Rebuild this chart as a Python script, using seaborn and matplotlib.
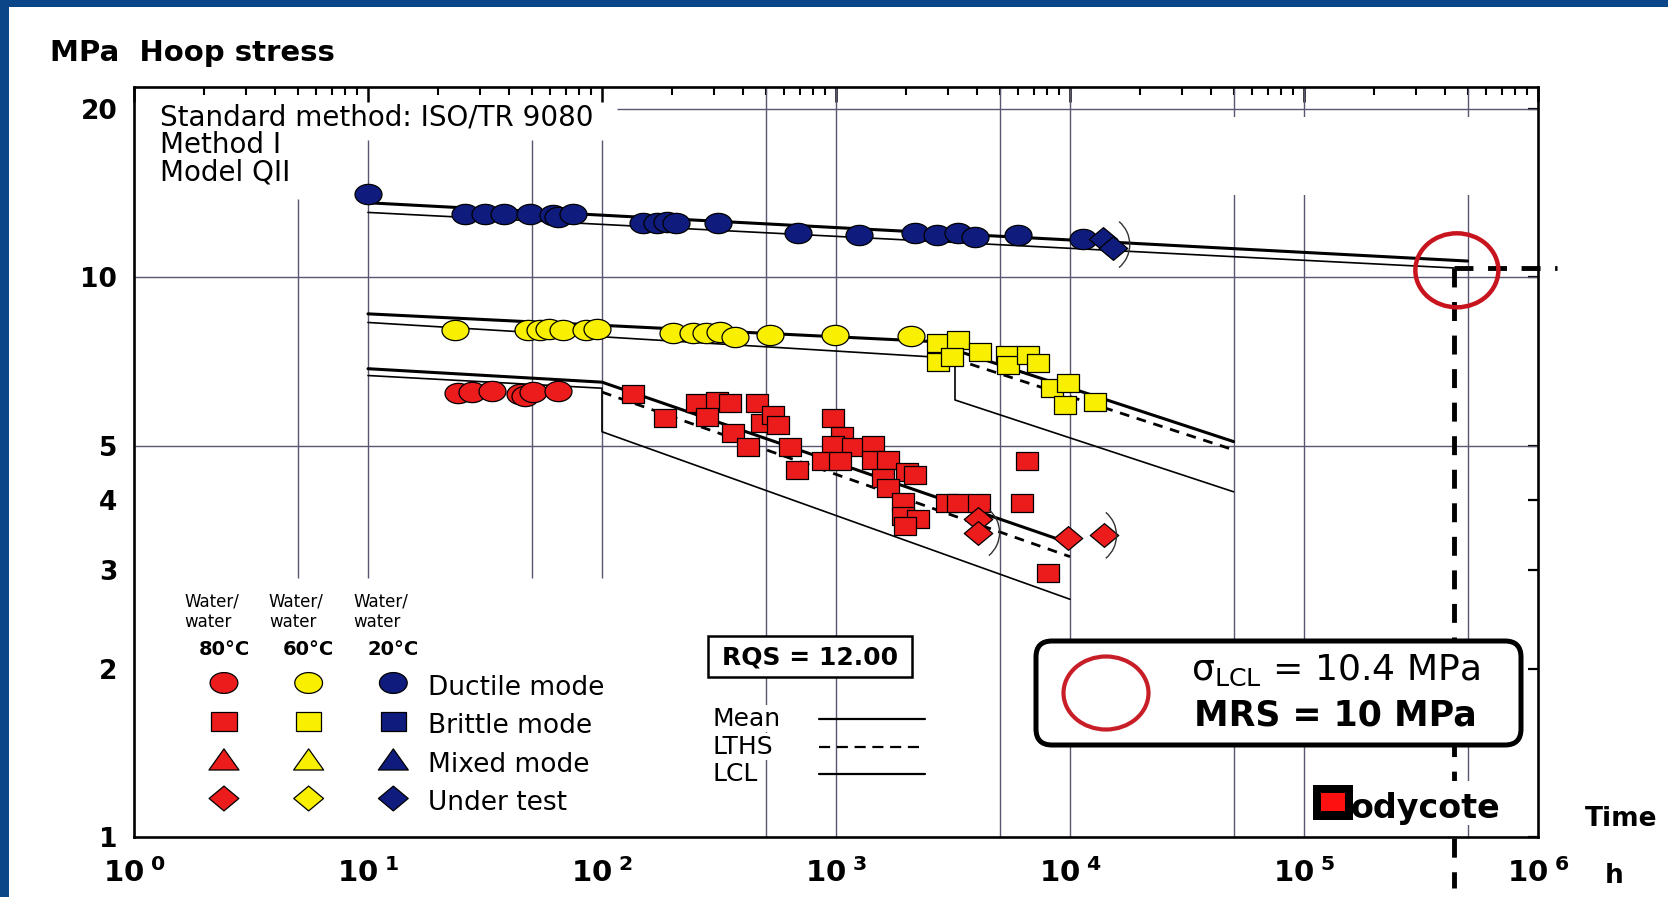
import matplotlib
matplotlib.use("Agg")
import numpy as np
import matplotlib.pyplot as plt
import matplotlib.transforms as mtransforms
from matplotlib.path import Path
from matplotlib.patches import Rectangle, Ellipse, FancyBboxPatch, Arc
from matplotlib.lines import Line2D
from matplotlib.ticker import FixedLocator, FixedFormatter, LogLocator, NullLocator, NullFormatter
import seaborn as sns

# ---- values: time in h, hoop stress in MPa ----
# 20 C water/water
blue_ductile_t = [10, 26, 31.5, 38, 49, 62, 65, 75, 150, 171, 189, 208, 314, 690,
                  1260, 2180, 2690, 3330, 3930, 6010, 11400]
blue_ductile_s = [14.1, 13.0, 13.0, 13.0, 13.0, 12.95, 12.8, 13.0, 12.5, 12.5, 12.55, 12.5, 12.5, 12.0,
                  11.9, 12.0, 11.9, 12.0, 11.8, 11.9, 11.7]
blue_test_t = [13900, 15300]
blue_test_s = [11.7, 11.3]

# 60 C water/water
yellow_ductile_t = [23.5, 48.4, 54.3, 59.5, 67.9, 85.5, 95.6, 202, 246, 279, 319, 370, 522, 990, 2090]
yellow_ductile_s = [8.06, 8.06, 8.06, 8.08, 8.06, 8.06, 8.08, 7.97, 7.97, 7.97, 8.0, 7.82, 7.9, 7.88, 7.87]
yellow_brittle_t = [2735, 2735, 3330, 3120, 4120, 5360, 5450, 6640, 7330, 8360, 9840, 9520, 12800]
yellow_brittle_s = [7.63, 7.07, 7.74, 7.22, 7.37, 7.27, 6.98, 7.27, 7.03, 6.34, 6.47, 5.92, 5.98]

# 80 C water/water
red_ductile_t = [24.3, 27.7, 33.8, 44.7, 47, 50.9, 65.0]
red_ductile_s = [6.21, 6.24, 6.26, 6.18, 6.15, 6.24, 6.26]
red_brittle_t = [136, 186, 254, 309, 352, 458, 280, 481, 540, 567, 364, 422, 636, 679, 974, 1058,
                 974, 1186, 883, 1040, 1443, 1443, 1673, 2004, 2178, 1592, 1673, 1942, 1942, 2249,
                 1972, 2972, 3333, 4098, 6530, 6220, 8070]
red_brittle_s = [6.2, 5.6, 5.97, 6.02, 5.97, 5.97, 5.64, 5.5, 5.68, 5.46, 5.27, 4.97, 4.97, 4.52, 5.6, 5.2,
                 5.02, 4.97, 4.69, 4.69, 5.02, 4.72, 4.72, 4.5, 4.44, 4.38, 4.2, 3.97, 3.74, 3.7,
                 3.59, 3.96, 3.96, 3.96, 4.69, 3.96, 2.96]
red_test_t = [4060, 4060, 9840, 14000]
red_test_s = [3.70, 3.49, 3.42, 3.46]

# fitted lines (mean, LTHS, LCL)
blue_mean_t, blue_mean_s = [10, 5e5], [13.6, 10.7]
blue_lcl_t, blue_lcl_s = [10, 438000], [13.07, 10.4]
yellow_mean_t, yellow_mean_s = [10, 2480, 5e4], [8.61, 7.69, 5.09]
yellow_lths_t, yellow_lths_s = [2700, 5e4], [7.32, 4.92]
yellow_lcl_t, yellow_lcl_s = [10, 3225, 3225, 5e4], [8.31, 7.17, 6.04, 4.14]
red_mean_t, red_mean_s = [10, 100, 1e4], [6.87, 6.50, 3.35]
red_lths_t, red_lths_s = [100, 1e4], [6.24, 3.17]
red_lcl_t, red_lcl_s = [10, 100, 100, 1e4], [6.68, 6.34, 5.30, 2.66]

# 50 year point, sigma_LCL
t50 = 438000
sigma_lcl = 10.4
bracket_t = [18000, 5000, 15800]
bracket_s = [11.45, 3.5, 3.46]

x_ticks = [1, 10, 100, 1e3, 1e4, 1e5, 1e6]
x_labels = [r'$\mathbf{10}^{\ \mathbf{%d}}$' % i for i in range(7)]
y_ticks = [1, 2, 3, 4, 5, 10, 20]
y_labels = ['1', '2', '3', '4', '5', '10', '20']

leg_temps = ['80°C', '60°C', '20°C']
leg_modes = ['Ductile mode', 'Brittle mode', 'Mixed mode', 'Under test']

RED = '#ec1c1c'
YELLOW = '#f8f000'
NAVY = '#0f1c7d'
GRID = '#5a5570'

sns.set_theme(style='white')
plt.rcParams['font.family'] = ['DejaVu Sans']
plt.rcParams['mathtext.fontset'] = 'dejavusans'
plt.rcParams['text.color'] = 'black'
plt.rcParams['xtick.color'] = 'black'
plt.rcParams['ytick.color'] = 'black'
plt.rcParams['xtick.labelcolor'] = 'black'
plt.rcParams['ytick.labelcolor'] = 'black'

# slightly wide marker shapes (the scan is stretched sideways)
ang = np.linspace(0, 2 * np.pi, 49)
OVAL = Path(np.column_stack([1.33 * np.cos(ang), np.sin(ang)]), closed=True)
BOX = Path([(-1.3, -1), (1.3, -1), (1.3, 1), (-1.3, 1), (-1.3, -1)], closed=True)
KITE = Path([(0, 1), (1.2, 0), (0, -1), (-1.2, 0), (0, 1)], closed=True)
TRI = Path([(-1.35, -0.9), (1.35, -0.9), (0, 1), (-1.35, -0.9)], closed=True)

W, H = 1668, 897
fig = plt.figure(figsize=(W / 100, H / 100), dpi=100)
fig.patch.set_facecolor('white')
PX = mtransforms.Affine2D().scale(1 / W, -1 / H).translate(0, 1) + fig.transFigure

ax = fig.add_axes([134 / W, 1 - 837 / H, (1538 - 134) / W, (837 - 87) / H])
ax.set_xscale('log')
ax.set_yscale('log')
ax.set_xlim(1, 1e6)
ax.set_ylim(1, 21.9)

# broken grid like the scan
ax.vlines([5], 2.9, 13.8, color=GRID, lw=1.0, zorder=1)
ax.vlines([10, 50, 100], 2.9, 17.6, color=GRID, lw=1.0, zorder=1)
ax.vlines([500, 1000, 5000, 1e4, 5e4, 1e5, 5e5], 1, 21.9, color=GRID, lw=1.0, zorder=1)
ax.hlines([5, 10], 1, 1e6, color=GRID, lw=1.0, zorder=1)
ax.hlines([20], 116, 1e6, color=GRID, lw=1.0, zorder=1)


def fit(t, s, lw, ls='-'):
    sns.lineplot(x=t, y=s, estimator=None, sort=False, color='black', lw=lw,
                 linestyle=ls, ax=ax, zorder=3)


for t, s in [(blue_mean_t, blue_mean_s), (yellow_mean_t, yellow_mean_s), (red_mean_t, red_mean_s)]:
    fit(t, s, 2.2)
for t, s in [(blue_lcl_t, blue_lcl_s), (yellow_lcl_t, yellow_lcl_s), (red_lcl_t, red_lcl_s)]:
    fit(t, s, 1.2)
for t, s in [(yellow_lths_t, yellow_lths_s), (red_lths_t, red_lths_s)]:
    fit(t, s, 2.0, (0, (3.5, 2.8)))


def pts(t, s, marker, size, color):
    sns.scatterplot(x=t, y=s, marker=marker, s=size, color=color, edgecolor='black',
                    linewidth=0.9, legend=False, ax=ax, zorder=5)


pts(blue_ductile_t, blue_ductile_s, OVAL, 378, NAVY)
pts(blue_test_t, blue_test_s, KITE, 420, NAVY)
pts(yellow_ductile_t, yellow_ductile_s, OVAL, 378, YELLOW)
pts(yellow_brittle_t, yellow_brittle_s, BOX, 260, YELLOW)
pts(red_ductile_t, red_ductile_s, OVAL, 378, RED)
pts(red_brittle_t, red_brittle_s, BOX, 260, RED)
pts(red_test_t, red_test_s, KITE, 420, RED)

# ")" marks after the specimens still under test
for bt, bs in zip(bracket_t, bracket_s):
    tr = fig.dpi_scale_trans + mtransforms.ScaledTranslation(bt, bs, ax.transData)
    ax.add_patch(Arc((-0.3, 0), 0.6, 0.6, theta1=-50, theta2=50, transform=tr,
                     color='#333333', lw=1.0, zorder=6))

# 50 year extrapolation
ax.plot([t50, t50], [sigma_lcl, 0.81], color='black', lw=3.5, ls=(0, (3.9, 3.0)),
        clip_on=False, zorder=4)
ax.plot([t50, 1.2e6], [sigma_lcl, sigma_lcl], color='black', lw=3.5, ls=(0, (3.9, 3.0)),
        clip_on=False, zorder=4)
tr = fig.dpi_scale_trans + mtransforms.ScaledTranslation(4.5e5, 10.3, ax.transData)
ax.add_patch(Ellipse((0, 0), 0.83, 0.74, transform=tr, fill=False, ec='#c8141e', lw=3.2,
                     clip_on=False, zorder=7))

# axes styling
ax.xaxis.set_major_locator(FixedLocator(x_ticks))
ax.xaxis.set_major_formatter(FixedFormatter(x_labels))
ax.xaxis.set_minor_locator(LogLocator(base=10, subs=np.arange(2, 10), numticks=30))
ax.xaxis.set_minor_formatter(NullFormatter())
ax.yaxis.set_major_locator(FixedLocator(y_ticks))
ax.yaxis.set_major_formatter(FixedFormatter(y_labels))
ax.yaxis.set_minor_locator(NullLocator())
ax.tick_params(which='both', direction='in', top=True, right=True, color='black')
ax.tick_params(axis='x', which='major', length=11, width=1.8, pad=15, labelsize=21)
ax.tick_params(axis='x', which='minor', length=6, width=1.5)
ax.tick_params(axis='y', which='major', length=7, width=1.6, pad=12, labelsize=19)
for lab in ax.get_yticklabels():
    lab.set_fontweight('bold')
for sp in ax.spines.values():
    sp.set_linewidth(1.9)
    sp.set_color('black')
ax.set_xlabel('')
ax.set_ylabel('')

# erased strip at top right of the scan
fig.add_artist(Rectangle((1210, 117), 321, 78, transform=PX, fc='white', ec='none', zorder=1))

# header texts
fig.text(50, 61, 'MPa  Hoop stress', transform=PX, fontsize=21, fontweight='bold', va='baseline')
for txt, yb in zip(['Standard method: ISO/TR 9080', 'Method I', 'Model QII'], [125, 153, 181]):
    fig.text(160, yb, txt, transform=PX, fontsize=20, va='baseline')
fig.text(1585, 819, 'Time', transform=PX, fontsize=19, fontweight='bold', va='center')
fig.text(1614, 876, 'h', transform=PX, fontsize=19, fontweight='bold', va='center', ha='center')

# symbol key
leg = fig.add_axes([164.7 / W, 1 - 817.75 / H, (605 - 164.7) / W, (817.75 - 586.75) / H])
leg.set_xlim(-0.7, 4.5)
leg.set_ylim(3.5, -2.5)
leg.axis('off')
leg_cols = [0, 1, 2]
palette = dict(zip(leg_temps, [RED, YELLOW, NAVY]))
for j, (mk, sz) in enumerate(zip([OVAL, BOX, TRI, KITE], [400, 340, 467, 460])):
    sns.scatterplot(x=leg_cols, y=[j] * 3, hue=leg_temps, palette=palette, marker=mk, s=sz,
                    edgecolor='black', linewidth=0.9, legend=False, ax=leg, clip_on=False)
    leg.text(2.41, j + 0.12, leg_modes[j], fontsize=19, va='center', ha='left')
leg.set_xlim(-0.7, 4.5)
leg.set_ylim(3.5, -2.5)
for i, temp in enumerate(leg_temps):
    leg.text(i - 0.47, -2.11, 'Water/', fontsize=12, va='center', ha='left')
    leg.text(i - 0.47, -1.59, 'water', fontsize=12, va='center', ha='left')
    leg.text(i, -0.86, temp, fontsize=14, fontweight='bold', va='center', ha='center')

# RQS box and line key
fig.add_artist(Rectangle((708, 636), 204, 41, transform=PX, fc='white', ec='black', lw=1.8, zorder=2))
fig.text(810, 657, 'RQS = 12.00', transform=PX, fontsize=18, fontweight='bold',
         ha='center', va='center', zorder=3)
for name, yc, ls in [('Mean', 719, '-'), ('LTHS', 747, (0, (5, 3))), ('LCL', 774, '-')]:
    fig.text(713, yc, name, transform=PX, fontsize=18, va='center', ha='left',
             bbox=dict(fc='white', ec='none', pad=1), zorder=3)
    fig.add_artist(Line2D([819, 925], [yc, yc], transform=PX, color='black', lw=1.6, ls=ls, zorder=3))

# result box
fig.add_artist(FancyBboxPatch((1036, 641), 485, 104, boxstyle='round,pad=0,rounding_size=16',
                              transform=PX, fc='white', ec='black', lw=3.6, zorder=2))
fig.add_artist(Ellipse((1106, 693), 85, 73, transform=PX, fill=False, ec='#c81e28', lw=3.0, zorder=3))
fig.text(1335, 670, r'$\mathrm{σ}_{\mathrm{LCL}}$ = 10.4 MPa', transform=PX, fontsize=26,
         ha='center', va='center', zorder=3)
fig.text(1335, 715, 'MRS = 10 MPa', transform=PX, fontsize=25, fontweight='bold',
         ha='center', va='center', zorder=3)

# Bodycote logo
fig.add_artist(Rectangle((1306, 781), 220, 44, transform=PX, fc='white', ec='none', zorder=2))
fig.add_artist(Rectangle((1313, 785), 40, 35, transform=PX, fc='black', ec='none', zorder=3))
fig.add_artist(Rectangle((1321, 793), 24, 18, transform=PX, fc='#ff1010', ec='none', zorder=4))
fig.text(1351, 818, 'odycote', transform=PX, fontsize=24, fontweight='bold', va='baseline',
         ha='left', zorder=3)

# blue frame of the slide
fig.add_artist(Rectangle((0, 0), W, 7, transform=PX, fc='#0b4788', ec='none', zorder=10))
fig.add_artist(Rectangle((0, 0), 9, H, transform=PX, fc='#0b4788', ec='none', zorder=10))

fig.savefig('out.png', dpi=100, facecolor='white')
